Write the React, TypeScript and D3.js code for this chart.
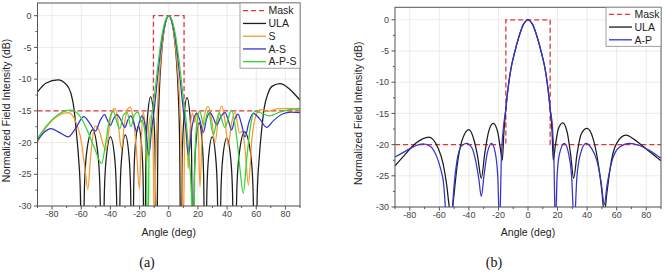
import * as d3 from "d3";

type Pt = [number, number];

// shared axes
const angleDomain: [number, number] = [-90, 90];
const dbDomain: [number, number] = [-30, 2];
const angleTicks = [-80, -60, -40, -20, 0, 20, 40, 60, 80];
const angleMinor = [-90, -70, -50, -30, -10, 10, 30, 50, 70, 90];
const dbTicks = [0, -5, -10, -15, -20, -25, -30];
const dbMinor = [-2.5, -7.5, -12.5, -17.5, -22.5, -27.5];

// (a) mask and patterns
const maskA: Pt[] = [[-90, -15], [-10.5, -15], [-10.5, 0], [10.5, 0], [10.5, -15], [90, -15]];

const ulaA: Pt[] = [
  [-90, -12.0], [-84, -10.6], [-76, -10.1], [-70, -10.9], [-67, -12.3], [-65, -14.6], [-63.3, -18.5], [-61.8, -22.5], [-60.6, -28], [-59.5, -45],
  [-57.7, -26.3], [-56, -21], [-52.2, -18.0], [-49, -21], [-47.3, -26.3], [-45.5, -45],
  [-44.1, -27.4], [-42.7, -22.1], [-40, -19.1], [-37.2, -22.1], [-35.9, -27.4], [-34.5, -45],
  [-33.3, -27], [-32.1, -21.9], [-29.8, -18.8], [-27.4, -21.8], [-26.2, -27], [-25, -45],
  [-23.9, -25.5], [-22.9, -20.3], [-20.8, -17.4], [-18.7, -20.3], [-17.6, -25.5], [-16.6, -45],
  [-15.6, -21.1], [-14.5, -15.8], [-12.4, -12.8], [-10.4, -15.8], [-9.4, -21.1], [-8.4, -45],
  [-7.5, -20.6], [-6.5, -12.2], [-5, -6.2], [-3.5, -2.8], [-2, -0.9], [0, 0],
  [2, -0.9], [3.5, -2.8], [5, -6.2], [6.5, -12.2], [7.5, -20.6], [8.4, -45],
  [9.4, -21.2], [10.5, -15.9], [12.5, -12.9], [14.6, -15.9], [15.6, -21.2], [16.6, -45],
  [17.6, -25.1], [18.7, -19.9], [20.8, -16.9], [22.9, -19.9], [23.9, -25.1], [25, -45],
  [26.2, -27.3], [27.4, -22.1], [29.8, -19.1], [32.1, -22.1], [33.3, -27.3], [34.5, -45],
  [35.8, -27.6], [37.1, -22.3], [39.8, -19.3], [42.4, -22.3], [43.7, -27.6], [45, -45],
  [46.8, -26.6], [48.6, -21.3], [52, -18.3], [55.9, -21.3], [57.7, -26.6], [59.5, -45],
  [60.7, -28], [62, -22.5], [63.7, -18], [65.5, -14.5], [68, -12.3], [71, -11.1], [76.3, -10.7], [82, -11.4], [86, -12.3], [90, -13.3],
];

const sA: Pt[] = [
  [-90, -19.9], [-84, -17.6], [-76, -15.8], [-69, -15.3], [-64, -16.6], [-60, -19.8], [-57.5, -24], [-55.5, -27.4], [-53.5, -22],
  [-50.5, -17.4], [-47.5, -18.2], [-45, -20.3], [-43, -21.2], [-41, -18], [-39, -15.2], [-37, -14.6], [-35, -16.3], [-33.5, -19.5],
  [-32.3, -21], [-30.5, -17.3], [-28.5, -14.8], [-26.5, -14.4], [-24.5, -16], [-22.2, -21], [-20.1, -27.3], [-18.8, -19.5],
  [-17.6, -15.2], [-16.3, -17], [-15.1, -23.3], [-13.6, -17.2], [-12.2, -15.8], [-10.9, -19], [-9.8, -34], [-8.7, -21],
  [-7.5, -13.5], [-6, -8.2], [-4, -3.6], [-2, -0.9], [0, 0], [2, -0.9], [4, -3.6], [6, -8.2], [7.5, -13.5], [8.8, -21],
  [9.9, -34], [11.2, -16.8], [12.3, -18.5], [13.4, -24.1], [14.8, -17.5], [16.3, -15.4], [17.8, -16.8], [19.3, -15.1],
  [20.4, -19.5], [21.4, -27], [22.8, -19.5], [25, -15.2], [27.1, -14.3], [29.5, -16.5], [31.8, -20], [34, -16.2],
  [36.3, -14.2], [38.5, -16.5], [40.8, -20.5], [43, -17], [45.5, -15.2], [48.5, -18.5], [50.5, -18.2], [52.5, -21.5],
  [54.6, -26.7], [57, -19.5], [60, -15.6], [63, -14.8], [68, -15.1], [74, -14.7], [82, -14.6], [90, -14.9],
];

const asA: Pt[] = [
  [-90, -19.6], [-85, -18.3], [-81, -17.8], [-75, -18.4], [-69, -19.1], [-64, -17.8], [-58.3, -15.9], [-54, -17], [-50.3, -18.2],
  [-47, -16.5], [-44, -15.6], [-42, -16.5], [-40, -17.3], [-37.8, -16.2], [-35.5, -15.6], [-32.7, -16.5], [-30, -17.6],
  [-28, -16.4], [-26, -15.8], [-24, -16.8], [-22, -18.3], [-20.2, -16.8], [-18.3, -15.8], [-16, -17.5], [-13.6, -22],
  [-11.8, -18], [-10, -14.9], [-8, -10.5], [-6, -6.2], [-4, -2.8], [-2, -0.8], [0, 0], [2, -0.8], [4, -2.8], [6, -6.2],
  [8, -10.5], [10, -14.9], [11.8, -18], [13.4, -22], [16.2, -17.2], [19.1, -15.4], [21.5, -16.6], [23.7, -18.4],
  [26, -16.2], [28.3, -15.3], [30.7, -16.2], [32.9, -17.2], [35.8, -15.9], [38.6, -15.3], [41, -16.6], [43.1, -18],
  [45.3, -16.3], [47.5, -15.5], [50, -17.2], [52.3, -19.1], [55, -16.8], [58, -15.4], [62.5, -16.3], [67.1, -17.6],
  [72, -16.5], [78, -15.5], [84, -15.2], [90, -15.3],
];

const apsA: Pt[] = [
  [-90, -19.3], [-84, -17.4], [-76, -15.6], [-67.5, -14.9], [-61, -15.8], [-56, -18], [-51, -20.8], [-46, -23.3],
  [-43.5, -20.5], [-40.5, -16.2], [-38, -15.1], [-35.5, -16.8], [-33.5, -17.8], [-31, -15.6], [-28.5, -15.3], [-26, -17.5],
  [-23.5, -15.6], [-21, -15.2], [-19, -16.8], [-18.5, -16.5], [-16.5, -18], [-15.3, -23], [-14.5, -40], [-13.5, -22],
  [-12, -16.5], [-10.5, -13.8], [-9, -11], [-7, -7], [-5, -3.6], [-3, -1.3], [0, 0], [3, -1.3], [5, -3.6], [7, -7],
  [9, -11], [10.5, -13.9], [12, -16.8], [14, -22.5], [15.5, -28], [16.8, -40], [18, -22], [19.5, -16.5], [21.3, -15.1],
  [24, -17.2], [27.2, -15], [30.5, -18.8], [34.5, -15.3], [38.5, -17.6], [43, -14.9], [46.5, -19], [49, -24.5],
  [51.1, -28], [53.5, -22.5], [56, -17.5], [59, -15.1], [63, -15.3], [69, -15.8], [76, -15.2], [83, -14.8], [90, -14.6],
];

// (b) mask and patterns
const maskB: Pt[] = [[-90, -20], [-15, -20], [-15, 0], [15, 0], [15, -20], [90, -20]];

const ulaB: Pt[] = [
  [-90, -23.4], [-84, -21.8], [-76, -19.8], [-67, -18.8], [-61, -20.5], [-57.5, -23], [-55, -26.5], [-53.3, -30],
  [-52, -32], [-50.5, -29], [-48, -23.5], [-45, -19.6], [-40, -17.6], [-36.5, -19.3], [-34, -22], [-31.6, -25.4],
  [-29.3, -21.5], [-26.5, -17.8], [-23.5, -16.6], [-20.5, -18], [-18.8, -20.5], [-17.4, -22.5], [-16.3, -18],
  [-15, -14.3], [-13.5, -11], [-11.5, -7.8], [-9, -5.2], [-6.5, -3], [-3, -0.7], [0, 0], [3, -0.7], [6.5, -3],
  [9, -5.2], [11.5, -7.8], [13.5, -11], [15, -14.3], [16.3, -18], [17.1, -22.5], [18.6, -20], [20.5, -17.5],
  [23.5, -16.5], [26.5, -18], [28.8, -21.5], [30.9, -25.4], [33.2, -21.5], [36, -18.3], [39.9, -17.4], [44, -19],
  [47.5, -23], [50, -27.5], [51.6, -31], [53.5, -27.5], [56.5, -22.5], [60, -19.8], [66.3, -18.5], [72, -19.2],
  [80, -20.7], [90, -22.6],
];

const apB: Pt[] = [
  [-90, -22.0], [-84, -21.2], [-78, -20.4], [-71, -19.9], [-66, -20.3], [-62, -21.8], [-59, -24], [-57, -26.5],
  [-55.8, -30.5], [-53.5, -38], [-51.2, -30.5], [-50, -26.5], [-48, -22.5], [-45, -20.2], [-41.5, -19.8], [-38, -20.5],
  [-35.5, -22.5], [-33.3, -25.5], [-31.6, -28.3], [-29.8, -25], [-27.5, -21.3], [-24.6, -19.8], [-22, -21.5],
  [-20.5, -25], [-19.2, -33], [-18, -22], [-16.5, -17], [-15, -14.3], [-13.5, -11], [-11.5, -7.8], [-9, -5.2],
  [-6.5, -3], [-3, -0.7], [0, 0], [3, -0.7], [6.5, -3], [9, -5.2], [11.5, -7.8], [13.5, -11], [15, -14.3],
  [16.5, -17], [17.5, -22], [18.5, -33], [19.7, -25], [21.5, -21.3], [24.6, -19.8], [27.5, -21.5], [29.5, -25],
  [31.3, -33], [33, -25.5], [35.5, -21.5], [39.2, -19.8], [43, -20.6], [46.5, -22.5], [49.5, -26], [51.6, -29.6],
  [53.5, -26.5], [57, -22.5], [62, -20.4], [68.6, -19.8], [75, -20.1], [82, -20.9], [90, -22.2],
];

const RED = "#e5323a";
const BLACK = "#1c1c1c";
const ORANGE = "#f59a30";
const BLUE = "#3434cc";
const GREEN = "#33d633";
const FONT = "'Liberation Sans', Arial, sans-serif";

type Series = { name: string; color: string; data: Pt[]; dashed?: boolean };

type PanelProps = {
  id: string;
  x0: number; x1: number; y0: number; y1: number;
  series: Series[];
  legendX: number; legendW: number; legendRow0: number;
  yLabelX: number; tag: string; tagX: number;
};

function Panel(p: PanelProps) {
  const x = d3.scaleLinear(angleDomain, [p.x0, p.x1]);
  const y = d3.scaleLinear(dbDomain, [p.y1, p.y0]);
  const smooth = d3.line<Pt>((d) => x(d[0]), (d) => y(d[1])).curve(d3.curveMonotoneX);
  const straight = d3.line<Pt>((d) => x(d[0]), (d) => y(d[1]));
  const rowH = 12.75;
  const legendH = p.legendRow0 - p.y0 + (p.series.length - 1) * rowH + 6.5;
  const cy = (p.y0 + p.y1) / 2 + 6;

  return (
    <g fontFamily={FONT}>
      <defs>
        <clipPath id={p.id}>
          <rect x={p.x0} y={p.y0} width={p.x1 - p.x0} height={p.y1 - p.y0} />
        </clipPath>
      </defs>
      <rect x={p.x0} y={p.y0} width={p.x1 - p.x0} height={p.y1 - p.y0} fill="#fff" />
      {angleTicks.map((t) => (
        <line key={"gx" + t} x1={x(t)} x2={x(t)} y1={p.y0} y2={p.y1} stroke="#e6e6e6" strokeWidth={0.8} />
      ))}
      {dbTicks.map((t) => (
        <line key={"gy" + t} x1={p.x0} x2={p.x1} y1={y(t)} y2={y(t)} stroke="#e6e6e6" strokeWidth={0.8} />
      ))}
      <g clipPath={`url(#${p.id})`} fill="none">
        {p.series.map((s) => (
          <path
            key={s.name}
            d={(s.dashed ? straight : smooth)(s.data) ?? ""}
            stroke={s.color}
            strokeWidth={s.dashed ? 1.3 : 1.25}
            strokeDasharray={s.dashed ? "5,3" : undefined}
          />
        ))}
      </g>
      <rect x={p.x0} y={p.y0} width={p.x1 - p.x0} height={p.y1 - p.y0} fill="none" stroke="#555" strokeWidth={1} />
      {/* bottom axis */}
      {angleTicks.map((t) => (
        <g key={"tx" + t}>
          <line x1={x(t)} x2={x(t)} y1={p.y1} y2={p.y1 + 3.5} stroke="#555" />
          <text x={x(t)} y={p.y1 + 11} fontSize={9} fill="#444" textAnchor="middle">{t}</text>
        </g>
      ))}
      {angleMinor.map((t) => (
        <line key={"mx" + t} x1={x(t)} x2={x(t)} y1={p.y1} y2={p.y1 + 2} stroke="#555" />
      ))}
      {/* left axis */}
      {dbTicks.map((t) => (
        <g key={"ty" + t}>
          <line x1={p.x0 - 3.5} x2={p.x0} y1={y(t)} y2={y(t)} stroke="#555" />
          <text x={p.x0 - 6} y={y(t)} dy="0.35em" fontSize={9} fill="#444" textAnchor="end">{t}</text>
        </g>
      ))}
      {dbMinor.map((t) => (
        <line key={"my" + t} x1={p.x0 - 2} x2={p.x0} y1={y(t)} y2={y(t)} stroke="#555" />
      ))}
      <text x={(p.x0 + p.x1) / 2} y={236} fontSize={10.5} fill="#222" textAnchor="middle">Angle (deg)</text>
      <text transform={`translate(${p.yLabelX},${cy}) rotate(-90)`} fontSize={10.5} fill="#222" textAnchor="middle">
        Normalized Field Intensity (dB)
      </text>
      {/* legend */}
      <rect x={p.legendX} y={p.y0} width={p.legendW} height={legendH} fill="#fff" stroke="#888" strokeWidth={0.8} />
      {p.series.map((s, i) => {
        const ly = p.legendRow0 + i * rowH;
        return (
          <g key={"lg" + s.name}>
            <line
              x1={p.legendX + 3} x2={p.legendX + 26} y1={ly} y2={ly}
              stroke={s.color} strokeWidth={1.3}
              strokeDasharray={s.dashed ? "5,3" : undefined}
            />
            <text x={p.legendX + 28.5} y={ly} dy="0.36em" fontSize={10.5} fill="#222">{s.name}</text>
          </g>
        );
      })}
      <text x={p.tagX} y={267} fontSize={14} fontFamily="'Liberation Serif', 'Times New Roman', serif" textAnchor="middle" fill="#111">
        {p.tag}
      </text>
    </g>
  );
}

export default function App() {
  const seriesA: Series[] = [
    { name: "Mask", color: RED, data: maskA, dashed: true },
    { name: "ULA", color: BLACK, data: ulaA },
    { name: "S", color: ORANGE, data: sA },
    { name: "A-S", color: BLUE, data: asA },
    { name: "A-P-S", color: GREEN, data: apsA },
  ];
  const seriesB: Series[] = [
    { name: "Mask", color: RED, data: maskB, dashed: true },
    { name: "ULA", color: BLACK, data: ulaB },
    { name: "A-P", color: BLUE, data: apB },
  ];
  return (
    <svg
      width={666}
      height={277}
      style={{ position: "absolute", left: 0, top: 0, background: "#fff" }}
    >
      <rect width={666} height={277} fill="#fff" />
      <Panel
        id="clipA" x0={37.5} x1={300} y0={3} y1={206}
        series={seriesA} legendX={240} legendW={60} legendRow0={10.7}
        yLabelX={9.5} tag="(a)" tagX={147}
      />
      <Panel
        id="clipB" x0={395} x1={661} y0={7.3} y1={207}
        series={seriesB} legendX={606} legendW={55} legendRow0={14.3}
        yLabelX={362} tag="(b)" tagX={494}
      />
    </svg>
  );
}
